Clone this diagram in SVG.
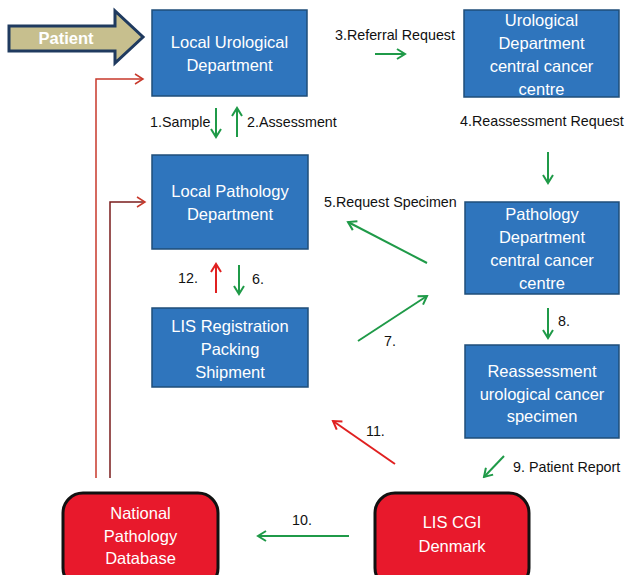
<svg xmlns="http://www.w3.org/2000/svg" width="626" height="575" viewBox="0 0 626 575">
<defs>
<style>
.box{fill:#2f75bd;stroke:#1f4e79;stroke-width:1.5}
.red{fill:#e8192c;stroke:#111;stroke-width:3}
.nt{font-family:"Liberation Sans",Arial,sans-serif;font-size:16.5px;fill:#fff;text-anchor:middle}
.lb{font-family:"Liberation Sans",Arial,sans-serif;font-size:14.3px;fill:#111}
.g{stroke:#1f9a48;stroke-width:2;fill:none}
.r{stroke:#e02020;stroke-width:2;fill:none}
</style>
<marker id="ag" viewBox="0 0 12 12" refX="10" refY="6" markerWidth="12" markerHeight="12" markerUnits="userSpaceOnUse" orient="auto">
<polyline points="2,1 10,6 2,11" fill="none" stroke="#1f9a48" stroke-width="2"/>
</marker>
<marker id="ar" viewBox="0 0 12 12" refX="10" refY="6" markerWidth="12" markerHeight="12" markerUnits="userSpaceOnUse" orient="auto">
<polyline points="2,1 10,6 2,11" fill="none" stroke="#e02020" stroke-width="2"/>
</marker>
<marker id="ar1" viewBox="0 0 12 12" refX="10" refY="6" markerWidth="12" markerHeight="12" markerUnits="userSpaceOnUse" orient="auto">
<polyline points="2,1 10,6 2,11" fill="none" stroke="#c8392b" stroke-width="1.5"/>
</marker>
<marker id="ar2" viewBox="0 0 12 12" refX="10" refY="6" markerWidth="12" markerHeight="12" markerUnits="userSpaceOnUse" orient="auto">
<polyline points="2,1 10,6 2,11" fill="none" stroke="#c8392b" stroke-width="1.5"/>
</marker>
</defs>
<rect width="626" height="575" fill="#fff"/>

<g id="patient">
<polygon points="9,26 115,26 115,11 143,37 115,63 115,51 9,51" fill="#c7bf8e" stroke="#1f3a5f" stroke-width="3" stroke-linejoin="miter"/>
<text x="66" y="44" class="nt" style="font-weight:bold">Patient</text>
</g>

<g id="local-uro">
<rect class="box" x="152" y="10" width="155" height="86"/>
<text class="nt" x="229.5" y="48">Local Urological</text>
<text class="nt" x="229.5" y="71">Department</text>
</g>

<g id="uro-central">
<rect class="box" x="464" y="10" width="155" height="87"/>
<text class="nt" x="541.5" y="26">Urological</text>
<text class="nt" x="541.5" y="49">Department</text>
<text class="nt" x="541.5" y="72">central cancer</text>
<text class="nt" x="541.5" y="95">centre</text>
</g>

<g id="local-path">
<rect class="box" x="152" y="155" width="156" height="94"/>
<text class="nt" x="230" y="197">Local Pathology</text>
<text class="nt" x="230" y="220">Department</text>
</g>

<g id="lis-reg">
<rect class="box" x="152" y="308" width="156" height="79"/>
<text class="nt" x="230" y="332">LIS Registration</text>
<text class="nt" x="230" y="355">Packing</text>
<text class="nt" x="230" y="378">Shipment</text>
</g>

<g id="path-central">
<rect class="box" x="465" y="202" width="154" height="92"/>
<text class="nt" x="542" y="220">Pathology</text>
<text class="nt" x="542" y="243">Department</text>
<text class="nt" x="542" y="266">central cancer</text>
<text class="nt" x="542" y="289">centre</text>
</g>

<g id="reassess">
<rect class="box" x="465" y="345" width="154" height="93"/>
<text class="nt" x="542" y="377">Reassessment</text>
<text class="nt" x="542" y="400">urological cancer</text>
<text class="nt" x="542" y="422">specimen</text>
</g>

<g id="national-db">
<rect class="red" x="63" y="493" width="155" height="95" rx="20"/>
<text class="nt" x="140.5" y="519">National</text>
<text class="nt" x="140.5" y="542">Pathology</text>
<text class="nt" x="140.5" y="564">Database</text>
</g>

<g id="lis-cgi">
<rect class="red" x="375" y="493" width="154" height="95" rx="20"/>
<text class="nt" x="452" y="528">LIS CGI</text>
<text class="nt" x="452" y="552">Denmark</text>
</g>

<g id="connectors">
<polyline points="96,478 96,79 143,79" fill="none" stroke="#c8392b" stroke-width="1.5" marker-end="url(#ar1)"/>
<polyline points="110,478 110,202 145,202" fill="none" stroke="#7a1c1c" stroke-width="1.5" marker-end="url(#ar2)"/>
<line class="g" x1="216" y1="108" x2="216" y2="137" marker-end="url(#ag)"/>
<line class="g" x1="237" y1="137" x2="237" y2="108" marker-end="url(#ag)"/>
<line class="g" x1="375" y1="54" x2="405" y2="54" marker-end="url(#ag)"/>
<line class="g" x1="548" y1="152" x2="548" y2="183" marker-end="url(#ag)"/>
<line class="g" x1="427" y1="263" x2="348" y2="222" marker-end="url(#ag)"/>
<line class="g" x1="358" y1="341" x2="427" y2="296" marker-end="url(#ag)"/>
<line class="r" x1="216" y1="293" x2="216" y2="264" marker-end="url(#ar)"/>
<line class="g" x1="239" y1="265" x2="239" y2="294" marker-end="url(#ag)"/>
<line class="g" x1="548" y1="308" x2="548" y2="338" marker-end="url(#ag)"/>
<line class="r" x1="395" y1="464" x2="333" y2="421" marker-end="url(#ar)"/>
<line class="g" x1="504" y1="456" x2="484" y2="477" marker-end="url(#ag)"/>
<line class="g" x1="349" y1="536" x2="258" y2="536" marker-end="url(#ag)"/>
<text class="lb" x="150" y="127">1.Sample</text>
<text class="lb" x="247" y="127">2.Assessment</text>
<text class="lb" x="335" y="40">3.Referral Request</text>
<text class="lb" x="460" y="126">4.Reassessment Request</text>
<text class="lb" x="324" y="207">5.Request Specimen</text>
<text class="lb" x="252" y="284">6.</text>
<text class="lb" x="384" y="346">7.</text>
<text class="lb" x="558" y="326">8.</text>
<text class="lb" x="513" y="472">9. Patient Report</text>
<text class="lb" x="292" y="525">10.</text>
<text class="lb" x="366" y="436">11.</text>
<text class="lb" x="178" y="283">12.</text>
</g>
</svg>
